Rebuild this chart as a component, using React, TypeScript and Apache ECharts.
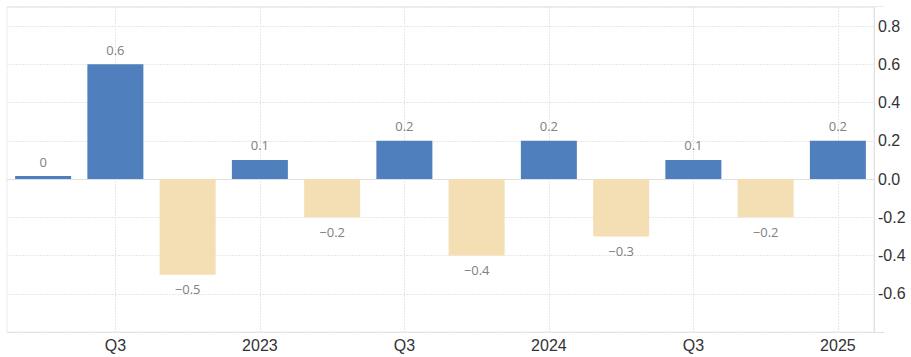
import React, { useEffect, useRef } from "react";
import * as echarts from "echarts";

const categories = [
  "Q2 2022", "Q3 2022", "Q4 2022", "Q1 2023", "Q2 2023", "Q3 2023",
  "Q4 2023", "Q1 2024", "Q2 2024", "Q3 2024", "Q4 2024", "Q1 2025",
];
const tickLabels = ["", "Q3", "", "2023", "", "Q3", "", "2024", "", "Q3", "", "2025"];
const values = [0, 0.6, -0.5, 0.1, -0.2, 0.2, -0.4, 0.2, -0.3, 0.1, -0.2, 0.2];

const POS = "#4f7fbd";
const NEG = "#f3dfb3";

export default function App() {
  const ref = useRef<HTMLDivElement>(null);
  useEffect(() => {
    document.body.style.margin = "0";
    document.body.style.overflow = "hidden";
    if (!ref.current) return;
    const chart = echarts.init(ref.current, undefined, { renderer: "svg" });
    const fmt = (v: number) => {
      if (v === 0) return "0";
      const s = Math.abs(v).toFixed(1);
      return v < 0 ? "\u2212" + s : s;
    };
    chart.setOption({
      animation: false,
      graphic: [
        {
          type: "line",
          silent: true,
          shape: { x1: 7, y1: 6.5, x2: 884, y2: 6.5 },
          style: { stroke: "#ececec", lineWidth: 1 },
        },
        {
          type: "line",
          silent: true,
          shape: { x1: 7, y1: 332.5, x2: 884, y2: 332.5 },
          style: { stroke: "#e0e0e0", lineWidth: 1 },
        },
      ],
      grid: {
        left: 7,
        right: 37,
        top: 7,
        bottom: 25,
        show: true,
        borderColor: "#ececec",
        borderWidth: 1,
      },
      xAxis: {
        type: "category",
        data: categories,
        axisLine: { show: true, lineStyle: { color: "#e0e0e0", width: 1 } },
        axisTick: { show: false },
        axisLabel: {
          interval: 0,
          formatter: (_v: string, i: number) => tickLabels[i],
          color: "#333",
          fontSize: 16,
          fontFamily: "Liberation Sans, Arial, sans-serif",
          margin: 5,
        },
        splitLine: {
          show: true,
          alignWithLabel: true,
          interval: (i: number) => i % 2 === 1,
          lineStyle: { color: "#e8e8e8", type: [2, 1] },
        },
      },
      yAxis: {
        type: "value",
        position: "right",
        min: -0.8,
        max: 0.9,
        interval: 0.2,
        axisLine: { show: true, lineStyle: { color: "#e0e0e0" } },
        axisTick: { show: false },
        axisLabel: {
          showMinLabel: false,
          showMaxLabel: false,
          formatter: (v: number) => v.toFixed(1),
          color: "#333",
          fontSize: 16,
          fontFamily: "Liberation Sans, Arial, sans-serif",
          margin: 4,
        },
        splitLine: {
          show: true,
          lineStyle: { color: "#e8e8e8", type: [2, 1] },
        },
      },
      series: [
        {
          type: "bar",
          barWidth: 56,
          barMinHeight: 3,
          data: values.map((v) => ({
            value: v,
            itemStyle: { color: v < 0 ? NEG : POS },
            label: { position: v < 0 ? "bottom" : "top" },
          })),
          label: {
            show: true,
            distance: 8,
            color: "#808080",
            fontSize: 13,
            fontFamily: "Open Sans, sans-serif",
            formatter: (p: any) => fmt(p.value),
          },
        },
      ],
    });
    return () => chart.dispose();
  }, []);
  return <div ref={ref} style={{ width: 911, height: 357 }} />;
}
